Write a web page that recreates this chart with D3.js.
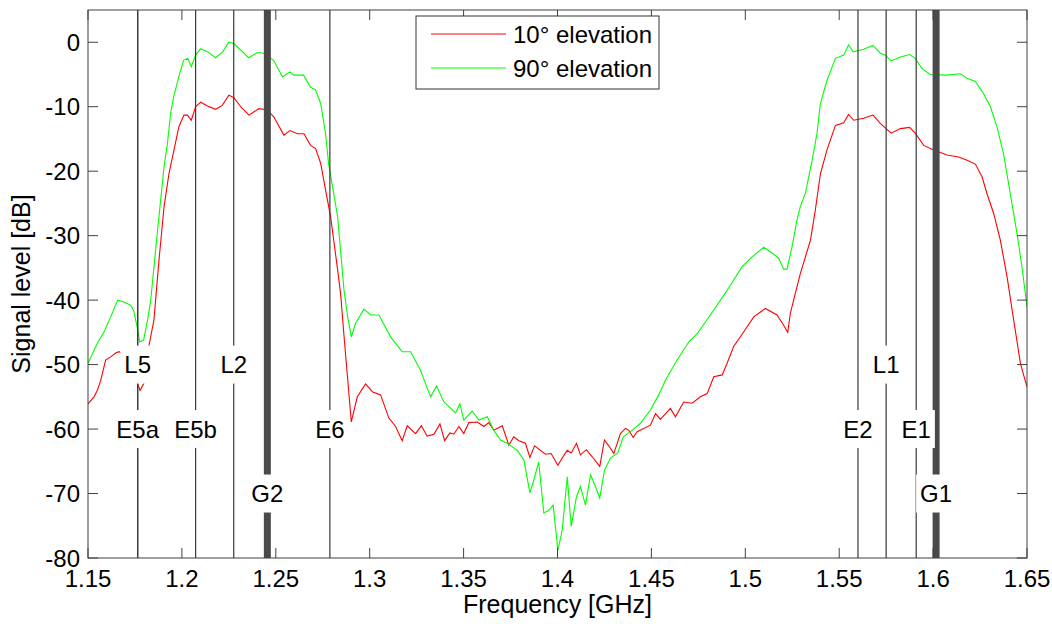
<!DOCTYPE html>
<meta charset="UTF-8">
<style>
  body { margin: 0; background: #fff; }
  text { font-family: "Liberation Sans", Arial, sans-serif; fill: #000; }
</style>
<svg width="1052" height="624"></svg>
<script src="https://d3js.org/d3.v7.min.js"></script>
<script>
  // 10° elevation (red)
  const freq10 = [1.150, 1.1532, 1.155, 1.1568, 1.1594, 1.1621, 1.1647, 1.1665, 1.1701, 1.1738, 1.1765, 1.1777,
    1.1798, 1.1825, 1.1851, 1.1878, 1.1905, 1.1931, 1.1958, 1.1984, 1.2011, 1.2029, 1.205, 1.2073, 1.21, 1.2136,
    1.218, 1.2215, 1.225, 1.2277, 1.2313, 1.2357, 1.241, 1.2455, 1.249, 1.2543, 1.2575, 1.2615, 1.265, 1.2685,
    1.2712, 1.2739, 1.2765, 1.2792, 1.2827, 1.2845, 1.2863, 1.2882, 1.2902, 1.2934, 1.2978, 1.3014, 1.3058,
    1.3102, 1.3138, 1.3173, 1.32, 1.3244, 1.3275, 1.3306, 1.3342, 1.3374, 1.3399, 1.3427, 1.3448, 1.3475,
    1.3501, 1.3528, 1.3573, 1.3608, 1.3634, 1.3661, 1.3706, 1.3741, 1.3767, 1.3794, 1.3829, 1.3853, 1.3878,
    1.3909, 1.3936, 1.3966, 1.4002, 1.4025, 1.4052, 1.4073, 1.4101, 1.4122, 1.4154, 1.4185, 1.4225, 1.425,
    1.4273, 1.43, 1.4335, 1.4362, 1.438, 1.4403, 1.4424, 1.4495, 1.4522, 1.4548, 1.4601, 1.4628, 1.4672,
    1.4717, 1.4761, 1.4797, 1.4832, 1.4877, 1.4903, 1.4938, 1.4992, 1.5045, 1.5107, 1.5169, 1.5204, 1.5226,
    1.524, 1.5293, 1.5347, 1.5373, 1.54, 1.5435, 1.548, 1.5524, 1.555, 1.5577, 1.563, 1.568, 1.5719, 1.5776,
    1.5826, 1.5875, 1.5905, 1.595, 1.6003, 1.6074, 1.6136, 1.6181, 1.6225, 1.6261, 1.6287, 1.6323, 1.6358,
    1.6394, 1.6429, 1.6465, 1.65];
  const level10 = [-56.1, -55, -54, -52.4, -49.3, -48.8, -48.2, -48, -48.5, -50.5, -53, -54,
    -52.9, -47, -43.1, -33.8, -25.5, -20.4, -16.7, -13.1, -11.3, -11.3, -12.1, -10, -9.3, -9.9,
    -10.4, -9.8, -8.2, -8.6, -10, -11.3, -10.3, -10.5, -11.6, -14.4, -13.7, -14.2, -14.2, -16,
    -16.5, -18.8, -22.9, -27.1, -34.8, -39, -45.5, -52, -58.9, -55, -53, -54.2, -54.7,
    -58.3, -59.6, -61.8, -59.5, -60.7, -59.5, -61.1, -60.8, -59.2, -61.8, -60.6, -60.8, -59.6,
    -60.7, -59, -58.9, -59.6, -59, -60.2, -59.5, -62.5, -61.2, -61.8, -62.2, -64.4, -62.6,
    -63.3, -63.9, -63.8, -65.6, -64.5, -63.3, -63.7, -62.2, -64, -63.2, -64.3, -65.8, -61.7,
    -62.6, -63.8, -60.7, -59.9, -60.2, -61.3, -60.4, -59.4, -57.6, -58.5, -56.8, -58.1, -55.8,
    -56, -55, -54.5, -51.9, -51.6, -49.8, -47.2, -44.9, -42.6, -41.3, -42.3, -43.9, -45,
    -42, -35.9, -30.7, -26, -20.4, -16.7, -12.9, -12.5, -11.2, -12.1, -11.8, -11.3, -12.6, -14.1,
    -13.4, -13.2, -14.1, -16, -16.7, -17.5, -17.8, -18.3, -18.9, -20.9, -23.5, -26.6, -30.7,
    -36.4, -43.1, -49.8, -53.5];

  // 90° elevation (green)
  const freq90 = [1.150, 1.155, 1.1584, 1.1621, 1.1658, 1.1685, 1.1727, 1.1743, 1.1765, 1.1775, 1.1796, 1.1818,
    1.1834, 1.1869, 1.1905, 1.1923, 1.194, 1.1956, 1.1983, 1.2009, 1.2031, 1.205, 1.2073, 1.21, 1.2137, 1.218,
    1.2217, 1.2249, 1.2276, 1.2313, 1.2355, 1.2403, 1.2435, 1.2488, 1.2536, 1.2575, 1.2595, 1.2648, 1.2685,
    1.2712, 1.2739, 1.2765, 1.2781, 1.2802, 1.2829, 1.2863, 1.2882, 1.2902, 1.2925, 1.2969, 1.3005, 1.3049,
    1.3111, 1.3173, 1.3218, 1.3271, 1.3324, 1.3356, 1.3395, 1.3457, 1.348, 1.3501, 1.3546, 1.3581, 1.3626,
    1.3661, 1.3697, 1.3732, 1.3786, 1.3821, 1.3853, 1.3874, 1.39, 1.3927, 1.3954, 1.3977, 1.4002, 1.4025,
    1.4052, 1.4073, 1.4101, 1.4122, 1.4149, 1.4176, 1.4202, 1.4225, 1.425, 1.4282, 1.4321, 1.435, 1.4389,
    1.4442, 1.4495, 1.4539, 1.4575, 1.4637, 1.4699, 1.4744, 1.4797, 1.4868, 1.4921, 1.4983, 1.5036, 1.5098,
    1.5143, 1.5178, 1.5204, 1.5222, 1.5249, 1.5275, 1.5293, 1.532, 1.5356, 1.5382, 1.54, 1.5435, 1.548,
    1.5524, 1.555, 1.5574, 1.563, 1.568, 1.5719, 1.5746, 1.5776, 1.5826, 1.5875, 1.5905, 1.5941, 1.5985,
    1.6074, 1.6145, 1.6181, 1.6225, 1.6269, 1.6305, 1.634, 1.6375, 1.6411, 1.6447, 1.6473, 1.65];
  const level90 = [-49.8, -46.7, -45, -42.6, -40, -40.2, -40.8, -41.6, -44.6, -46.5, -46.2, -43,
    -40, -29.6, -19.3, -15.7, -11, -8.5, -5.4, -2.8, -2.5, -3.8, -2, -1, -1.5, -2.4,
    -1.5, 0, -0.2, -1.2, -2.4, -1.6, -1.7, -2.8, -5.4, -4.6, -5.1, -5.1, -7,
    -7.4, -9.5, -14.2, -18.8, -22.4, -27, -38.4, -42.5, -45.7, -43.6, -41.4, -42.3, -42.3,
    -45.7, -48, -48, -50.9, -55, -53.3, -55.8, -57.5, -56.1, -58.6, -57.2, -58.6, -58.1,
    -60.2, -61.7, -62.2, -63.3, -64.8, -69.9, -67.9, -65.1, -73, -72.6, -71.8, -78.8, -75.7,
    -67.4, -75.1, -70.5, -68.9, -71.8, -67.1, -68.9, -70.7, -66.4, -64.5, -63.7, -61.2, -60.4,
    -59.1, -57, -54.7, -52.4, -49.3, -46.5, -45.2, -43, -40, -37.7, -34.8, -33.3, -31.8,
    -32.7, -33.5, -35.2, -35.2, -31.7, -27.6, -25.5, -23.4, -18.3, -14.1, -9.5, -5.9, -2.5,
    -2, -0.4, -1.5, -1.1, -0.5, -1.7, -2, -2.9, -2.3, -1.9, -2.5, -4.1, -5,
    -5.1, -4.9, -5.6, -6.1, -8, -10, -13.1, -17.3, -23.5, -29.7, -34.8, -41];

  // signal band markers
  const bandNames = ['L5', 'L2', 'L1', 'E5a', 'E5b', 'E6', 'E2', 'E1', 'G2', 'G1'];
  const bandFreqs = [1.17645, 1.2276, 1.575, 1.17645, 1.2073, 1.2788, 1.560, 1.591, 1.2455, 1.6016];
  const bandLabelLevels = [-50, -50, -50, -60, -60, -60, -60, -60, -70, -70];
  const glonassBands = ['G1', 'G2'];

  const xTicks = [1.15, 1.2, 1.25, 1.3, 1.35, 1.4, 1.45, 1.5, 1.55, 1.6, 1.65];
  const yTicks = [0, -10, -20, -30, -40, -50, -60, -70, -80];

  const margin = {left: 88, right: 25, top: 10, bottom: 66};
  const width = 1052 - margin.left - margin.right,
        height = 624 - margin.top - margin.bottom;

  const svg = d3.select('svg');
  const g = svg.append('g').attr('transform', `translate(${margin.left},${margin.top})`);

  const x = d3.scaleLinear().domain([1.15, 1.65]).range([0, width]);
  const y = d3.scaleLinear().domain([-80, 5]).range([height, 0]);

  g.append('defs').append('clipPath').attr('id', 'clip')
    .append('rect').attr('width', width).attr('height', height);

  const plot = g.append('g').attr('clip-path', 'url(#clip)');

  const line = d3.line().x(d => x(d[0])).y(d => y(d[1]));
  plot.append('path')
    .datum(d3.zip(freq10, level10))
    .attr('d', line).attr('fill', 'none').attr('stroke', '#ff0000').attr('stroke-width', 1.1);
  plot.append('path')
    .datum(d3.zip(freq90, level90))
    .attr('d', line).attr('fill', 'none').attr('stroke', '#00ff00').attr('stroke-width', 1.1);

  const bands = bandNames.map((name, i) => ({name, f: bandFreqs[i], level: bandLabelLevels[i]}));

  plot.selectAll('line.band')
    .data(bands)
    .enter().append('line').classed('band', true)
      .attr('x1', d => x(d.f)).attr('x2', d => x(d.f))
      .attr('y1', 0).attr('y2', height)
      .attr('stroke', d => glonassBands.includes(d.name) ? '#4a4a4a' : '#383838')
      .attr('stroke-width', d => glonassBands.includes(d.name) ? 7 : 1.2);

  const labels = plot.selectAll('g.label')
    .data(bands)
    .enter().append('g').classed('label', true)
      .attr('transform', d => `translate(${x(d.f)},${y(d.level)})`);
  labels.append('rect').attr('fill', '#fff');
  labels.append('text')
    .attr('text-anchor', 'middle')
    .attr('dy', '0.36em')
    .style('font-size', '24px')
    .text(d => d.name);
  labels.each(function() {
    const w = d3.select(this).select('text').node().getComputedTextLength() + 8;
    d3.select(this).select('rect')
      .attr('x', -w / 2).attr('width', w)
      .attr('y', -19).attr('height', 38);
  });

  // axes box with inward ticks on all sides
  const tickLen = 10;
  const axisColor = '#404040';
  const axes = g.append('g');
  axes.append('rect').attr('width', width).attr('height', height)
    .attr('fill', 'none').attr('stroke', axisColor).attr('stroke-width', 1);

  xTicks.forEach(t => {
    axes.append('line').attr('x1', x(t)).attr('x2', x(t)).attr('y1', height).attr('y2', height - tickLen)
      .attr('stroke', axisColor);
    axes.append('line').attr('x1', x(t)).attr('x2', x(t)).attr('y1', 0).attr('y2', tickLen)
      .attr('stroke', axisColor);
    axes.append('text').attr('x', x(t)).attr('y', height + 29)
      .attr('text-anchor', 'middle').style('font-size', '24px').text(t);
  });
  yTicks.forEach(t => {
    axes.append('line').attr('x1', 0).attr('x2', tickLen).attr('y1', y(t)).attr('y2', y(t))
      .attr('stroke', axisColor);
    axes.append('line').attr('x1', width).attr('x2', width - tickLen).attr('y1', y(t)).attr('y2', y(t))
      .attr('stroke', axisColor);
    axes.append('text').attr('x', -8).attr('y', y(t)).attr('dy', '0.36em')
      .attr('text-anchor', 'end').style('font-size', '24px').text(t);
  });

  g.append('text')
    .attr('x', width / 2).attr('y', height + 55)
    .attr('text-anchor', 'middle').style('font-size', '25px')
    .text('Frequency [GHz]');
  g.append('text')
    .attr('transform', `translate(${-58},${height / 2}) rotate(-90)`)
    .attr('text-anchor', 'middle').style('font-size', '25px')
    .text('Signal level [dB]');

  // legend
  const series = [
    {name: '10° elevation', color: '#ff0000'},
    {name: '90° elevation', color: '#00ff00'},
  ];
  const legend = svg.append('g').attr('transform', 'translate(416,16)');
  legend.append('rect').attr('width', 243).attr('height', 73)
    .attr('fill', '#fff').attr('stroke', '#333').attr('stroke-width', 1);
  const items = legend.selectAll('g.item')
    .data(series)
    .enter().append('g').classed('item', true)
      .attr('transform', (_, i) => `translate(0,${18 + i * 34})`);
  items.append('line').attr('x1', 15).attr('x2', 90)
    .attr('stroke', d => d.color).attr('stroke-width', 1.1);
  items.append('text').attr('x', 97).attr('dy', '0.36em')
    .style('font-size', '24px').text(d => d.name);
</script>
